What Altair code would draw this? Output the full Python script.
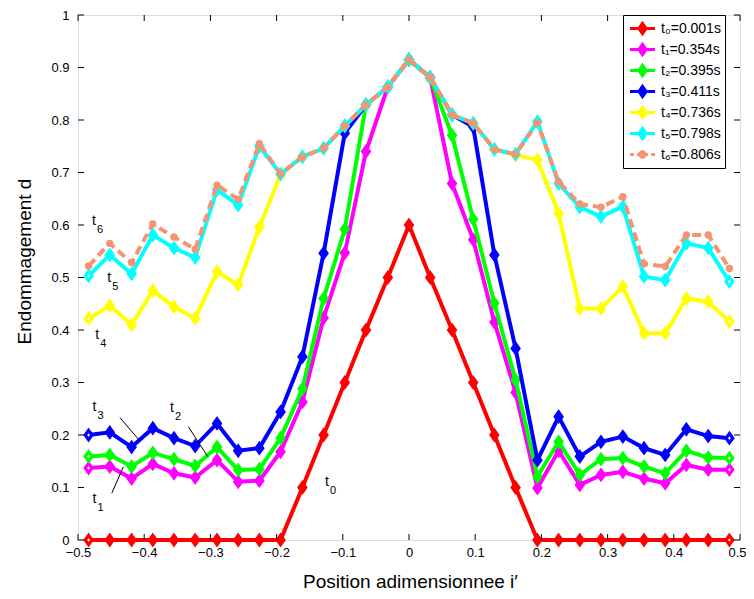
import altair as alt
import pandas as pd

# ---------------- data ----------------
positions = [-0.484, -0.452, -0.419, -0.387, -0.355, -0.323, -0.290, -0.258, -0.226, -0.194,
             -0.161, -0.129, -0.097, -0.065, -0.032, 0.000, 0.032, 0.065, 0.097, 0.129,
             0.161, 0.194, 0.226, 0.258, 0.290, 0.323, 0.355, 0.387, 0.419, 0.452, 0.484]

t0 = [0, 0, 0, 0, 0, 0, 0, 0, 0, 0,
      0.1, 0.2, 0.3, 0.4, 0.5, 0.6, 0.5, 0.4, 0.3, 0.2,
      0.1, 0, 0, 0, 0, 0, 0, 0, 0, 0, 0]
t1 = [0.137, 0.140, 0.117, 0.145, 0.127, 0.119, 0.152, 0.111, 0.113, 0.168,
      0.263, 0.423, 0.547, 0.740, 0.863, 0.915, 0.881, 0.679, 0.572, 0.415,
      0.281, 0.099, 0.170, 0.105, 0.124, 0.130, 0.117, 0.108, 0.143, 0.134, 0.134]
t2 = [0.159, 0.162, 0.140, 0.166, 0.154, 0.141, 0.177, 0.133, 0.135, 0.194,
      0.288, 0.460, 0.592, 0.829, 0.863, 0.915, 0.881, 0.771, 0.611, 0.451,
      0.305, 0.121, 0.187, 0.124, 0.154, 0.156, 0.140, 0.127, 0.170, 0.157, 0.156]
t3 = [0.200, 0.205, 0.177, 0.213, 0.194, 0.179, 0.222, 0.170, 0.175, 0.244,
      0.349, 0.546, 0.775, 0.829, 0.863, 0.915, 0.881, 0.810, 0.787, 0.543,
      0.365, 0.152, 0.235, 0.159, 0.187, 0.197, 0.175, 0.162, 0.211, 0.198, 0.194]
t4 = [0.422, 0.446, 0.410, 0.475, 0.444, 0.422, 0.511, 0.486, 0.596, 0.696,
      0.730, 0.746, 0.789, 0.829, 0.863, 0.915, 0.881, 0.810, 0.794, 0.744,
      0.733, 0.724, 0.622, 0.441, 0.441, 0.483, 0.394, 0.394, 0.460, 0.454, 0.416]
t5 = [0.503, 0.543, 0.507, 0.581, 0.556, 0.538, 0.667, 0.638, 0.750, 0.697,
      0.730, 0.746, 0.789, 0.829, 0.863, 0.915, 0.881, 0.810, 0.794, 0.744,
      0.735, 0.797, 0.679, 0.634, 0.616, 0.635, 0.502, 0.495, 0.565, 0.556, 0.492]
t6 = [0.522, 0.565, 0.528, 0.602, 0.577, 0.554, 0.676, 0.649, 0.755, 0.697,
      0.730, 0.746, 0.789, 0.829, 0.863, 0.915, 0.881, 0.810, 0.794, 0.744,
      0.735, 0.795, 0.682, 0.640, 0.634, 0.654, 0.526, 0.521, 0.581, 0.581, 0.517]

series_values = [t0, t1, t2, t3, t4, t5, t6]
series_labels = ["t₀=0.001s", "t₁=0.354s", "t₂=0.395s", "t₃=0.411s",
                 "t₄=0.736s", "t₅=0.798s", "t₆=0.806s"]
series_colors = ["#ff0000", "#ff00ff", "#00ff00", "#0000ff", "#ffff00", "#00ffff", "#f59473"]

x_ticks = [-0.5, -0.4, -0.3, -0.2, -0.1, 0, 0.1, 0.2, 0.3, 0.4, 0.5]
y_ticks = [0, 0.1, 0.2, 0.3, 0.4, 0.5, 0.6, 0.7, 0.8, 0.9, 1]

# in-plot annotations (label, subscript, position)
ann_main = ["t", "t", "t", "t", "t", "t", "t"]
ann_sub = ["6", "5", "4", "3", "2", "1", "0"]
ann_x = [-0.479, -0.456, -0.474, -0.478, -0.361, -0.478, -0.127]
ann_y = [0.607, 0.499, 0.390, 0.253, 0.251, 0.078, 0.110]

# leader lines
lead_x1 = [-0.4366, -0.3334, -0.4490]
lead_y1 = [0.233, 0.216, 0.089]
lead_x2 = [-0.4074, -0.3041, -0.4316]
lead_y2 = [0.190, 0.159, 0.139]

# ---------------- tables ----------------
rows = []
for lab, vals in zip(series_labels, series_values):
    for xv, yv in zip(positions, vals):
        rows.append({"series": lab, "x": xv, "y": yv})
df = pd.DataFrame(rows)

ann_df = pd.DataFrame({"m": ann_main, "s": ann_sub, "x": ann_x, "y": ann_y})
lead_df = pd.DataFrame({"x": lead_x1, "y": lead_y1, "x2": lead_x2, "y2": lead_y2})
xt_df = pd.DataFrame({"x": x_ticks})
yt_df = pd.DataFrame({"y": y_ticks})

W, H = 662, 525
FONT = "Liberation Sans"

xscale = alt.Scale(domain=[-0.5, 0.5], nice=False, zero=False)
yscale = alt.Scale(domain=[0, 1], nice=False, zero=False)
cscale = alt.Scale(domain=series_labels, range=series_colors)

xaxis = alt.Axis(values=x_ticks, format="~g", ticks=False, domain=False, grid=False,
                 labelPadding=6, labelFontSize=13, labelColor="black", labelFont=FONT,
                 labelOverlap=False, labelFlush=False, labelBound=False,
                 labelAlign={"expr": "datum.value > 0.45 ? 'right' : 'center'"},
                 labelOffset={"expr": "datum.value > 0.45 ? 6 : 0"},
                 title="Position adimensionnee i′", titleFontSize=19, titleFont=FONT,
                 titleFontWeight="normal", titleColor="black", titleX=332, titleY=41,
                 titleBaseline="middle", titleAlign="center")
yaxis = alt.Axis(values=y_ticks, format="~g", ticks=False, domain=False, grid=False,
                 labelPadding=9, labelFontSize=13, labelColor="black", labelFont=FONT,
                 labelOverlap=False, labelFlush=False, labelBound=False,
                 title="Endommagement d", titleFontSize=19, titleFont=FONT,
                 titleFontWeight="normal", titleColor="black", titleX=-54, titleY=246,
                 titleAngle=-90, titleBaseline="middle", titleAlign="center")

X = alt.X("x:Q", scale=xscale, axis=xaxis)
Y = alt.Y("y:Q", scale=yscale, axis=yaxis)

diamond = "M0,-1L0.72,0L0,1L-0.72,0Z"

layers = []
base = alt.Chart(df)
for i, (lab, col) in enumerate(zip(series_labels, series_colors)):
    sub = base.transform_filter(alt.datum.series == lab)
    if i < 6:
        line = sub.mark_line(strokeWidth=4, color=col).encode(x=X, y=Y)
        pts = sub.mark_point(filled=True, shape=diamond, size=150, stroke=col, fill=col,
                             strokeWidth=1.5, opacity=1).encode(x=X, y=Y)
        ends = sub.transform_filter("datum.x < -0.47 || datum.x > 0.47").mark_point(
            filled=True, shape=diamond, size=14, color="white", opacity=1).encode(x=X, y=Y)
        layers += [line, pts, ends]
    else:
        line = sub.mark_line(strokeWidth=4, strokeDash=[9, 5], color=col).encode(x=X, y=Y)
        pts = sub.mark_point(filled=True, shape="circle", size=55, color=col,
                             opacity=1).encode(x=X, y=Y)
        layers += [line, pts]

# legend (drawn from an invisible layer that owns the legend)
leg_path = ("M-1.6,0L1.6,0M0,-0.66L0.46,0L0,0.66L-0.46,0Z"
            "M0,-0.4L0.28,0L0,0.4L-0.28,0ZM0,-0.14L0.1,0L0,0.14L-0.1,0Z")
leg_path6 = ("M-1.6,0L-1.1,0M-0.7,0L0.7,0M1.1,0L1.6,0"
             "M-0.35,0A0.35,0.35 0 1,0 0.35,0A0.35,0.35 0 1,0 -0.35,0"
             "M-0.12,0A0.12,0.12 0 1,0 0.12,0A0.12,0.12 0 1,0 -0.12,0")
leg_props = dict(orient="none", legendX=545, legendY=0, title=None,
                 strokeColor="black", fillColor="white", padding=4,
                 labelFont=FONT, labelFontSize=14, labelColor="black",
                 symbolStrokeWidth=3, symbolSize=246, rowPadding=-2.4,
                 symbolOpacity=1, labelOffset=9, symbolOffset=6, cornerRadius=0)
legend_layer = base.mark_point(filled=False, opacity=0, strokeWidth=3).encode(
    x=X, y=Y,
    color=alt.Color("series:N", scale=cscale, legend=alt.Legend(**leg_props)),
    shape=alt.Shape("series:N",
                    scale=alt.Scale(domain=series_labels, range=[leg_path] * 6 + [leg_path6]),
                    legend=alt.Legend(**leg_props)),
)

# annotations
ann_t = alt.Chart(ann_df).mark_text(font=FONT, fontSize=14, color="black", align="left",
                                    baseline="middle").encode(x=X, y=Y, text="m:N")
ann_s = alt.Chart(ann_df).mark_text(font=FONT, fontSize=11, color="black", align="left",
                                    baseline="middle", dx=5, dy=9).encode(x=X, y=Y, text="s:N")
leads = alt.Chart(lead_df).mark_rule(color="black", strokeWidth=1).encode(
    x=X, y=Y, x2="x2:Q", y2="y2:Q")

# inward ticks on all four sides
tick_b = alt.Chart(xt_df).mark_rule(color="black", strokeWidth=1).encode(
    x=X, y=alt.value(H), y2=alt.value(H - 6))
tick_t = alt.Chart(xt_df).mark_rule(color="black", strokeWidth=1).encode(
    x=X, y=alt.value(0), y2=alt.value(6))
tick_l = alt.Chart(yt_df).mark_rule(color="black", strokeWidth=1).encode(
    y=Y, x=alt.value(0), x2=alt.value(6))
tick_r = alt.Chart(yt_df).mark_rule(color="black", strokeWidth=1).encode(
    y=Y, x=alt.value(W), x2=alt.value(W - 6))

chart = alt.layer(
    *layers, ann_t, ann_s, leads, tick_b, tick_t, tick_l, tick_r, legend_layer
).properties(
    width=W, height=H,
    autosize=alt.AutoSizeParams(type="none"),
    padding={"left": 70, "top": 7, "right": 6, "bottom": 51},
).configure_view(
    stroke="black", strokeWidth=1
).configure(
    font=FONT, background="white"
)

chart.save("out.html", embed_options={"renderer": "svg", "actions": False})
